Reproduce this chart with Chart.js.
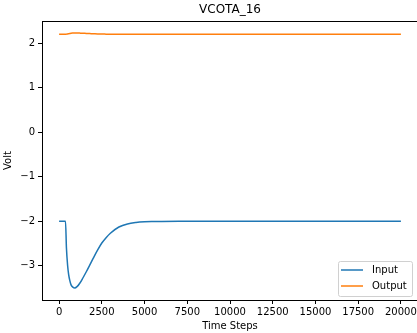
<!DOCTYPE html>
<html>
<head>
<meta charset="utf-8">
<script src="https://cdn.jsdelivr.net/npm/chart.js@4"></script>
<style>
  html, body { margin: 0; padding: 0; background: #fff; overflow: hidden; }
  #wrap { position: relative; width: 420px; height: 333px; }
</style>
</head>
<body>
<div id="wrap"><canvas id="c"></canvas></div>
<script>
const chartTitle = 'VCOTA_16';
const xLabel = 'Time Steps';
const yLabel = 'Volt';
const seriesNames = ['Input', 'Output'];
const steps = [0, 200, 375, 430, 500, 560, 625, 700, 800, 920, 1050, 1200, 1400, 1600, 1800, 2000, 2250, 2500, 2750, 3000, 3500, 4000, 4500, 5000, 5500, 6000, 7000, 8000, 10000, 15000, 20000];
const inputValues = [-2, -2, -2, -2.6, -3.0, -3.2, -3.33, -3.43, -3.48, -3.5, -3.47, -3.4, -3.27, -3.13, -2.98, -2.83, -2.65, -2.49, -2.37, -2.27, -2.13, -2.06, -2.028, -2.013, -2.007, -2.004, -2.001, -2.0, -2.0, -2.0, -2.0];
const outputValues = [2.2, 2.2, 2.2, 2.205, 2.21, 2.215, 2.22, 2.225, 2.228, 2.23, 2.23, 2.228, 2.225, 2.22, 2.217, 2.214, 2.21, 2.207, 2.205, 2.203, 2.201, 2.2, 2.2, 2.2, 2.2, 2.2, 2.2, 2.2, 2.2, 2.2, 2.2];
const xTicks = [0, 2500, 5000, 7500, 10000, 12500, 15000, 17500, 20000];
const yTicks = [-3, -2, -1, 0, 1, 2];
const colors = ['#1f77b4', '#ff7f0e'];

const FONT = "'DejaVu Sans', sans-serif";

const framePlugin = {
  id: 'frame',
  afterDraw(chart) {
    const {ctx, chartArea: a} = chart;
    ctx.save();
    ctx.strokeStyle = '#000';
    ctx.lineWidth = 1;
    ctx.strokeRect(Math.round(a.left) + 0.5, Math.round(a.top) + 0.5, Math.round(a.right - a.left), Math.round(a.bottom - a.top));
    ctx.fillStyle = '#000';
    ctx.font = '12px ' + FONT;
    ctx.textAlign = 'center';
    ctx.textBaseline = 'middle';
    ctx.fillText(chartTitle, (a.left + a.right) / 2, 10);
    const bw = 74, bh = 35;
    const bx = a.right - 6 - bw, by = a.bottom - 4 - bh;
    ctx.beginPath();
    if (ctx.roundRect) ctx.roundRect(bx + 0.5, by + 0.5, bw, bh, 2); else ctx.rect(bx + 0.5, by + 0.5, bw, bh);
    ctx.fillStyle = 'rgba(255,255,255,0.8)';
    ctx.fill();
    ctx.strokeStyle = '#d0d0d0';
    ctx.stroke();
    ctx.font = '10px ' + FONT;
    ctx.textAlign = 'left';
    chart.data.datasets.forEach((ds, i) => {
      const y = by + 9 + i * 16;
      ctx.strokeStyle = ds.borderColor;
      ctx.lineWidth = 1.5;
      ctx.beginPath();
      ctx.moveTo(bx + 3, y);
      ctx.lineTo(bx + 25, y);
      ctx.stroke();
      ctx.fillStyle = '#000';
      ctx.fillText(ds.label, bx + 34, y + 0.5);
    });
    ctx.restore();
  }
};

const fmtY = v => v < 0 ? '\u2212' + Math.abs(v) : String(v);

new Chart(document.getElementById('c'), {
  type: 'line',
  data: {
    datasets: [
      { label: seriesNames[0], data: steps.map((s, i) => ({x: s, y: inputValues[i]})), borderColor: colors[0], backgroundColor: colors[0], borderWidth: 1.5, pointRadius: 0, cubicInterpolationMode: 'monotone', fill: false },
      { label: seriesNames[1], data: steps.map((s, i) => ({x: s, y: outputValues[i]})), borderColor: colors[1], backgroundColor: colors[1], borderWidth: 1.5, pointRadius: 0, cubicInterpolationMode: 'monotone', fill: false }
    ]
  },
  options: {
    responsive: true,
    maintainAspectRatio: false,
    animation: false,
    layout: { padding: { top: 21, right: 2, left: 0, bottom: 0 } },
    plugins: { legend: { display: false }, title: { display: false }, tooltip: { enabled: false } },
    scales: {
      x: {
        type: 'linear', min: -1000, max: 21000,
        afterBuildTicks: s => { s.ticks = xTicks.map(v => ({value: v})); },
        afterFit: s => { s.height = 33; },
        grid: { display: true, drawOnChartArea: false, drawTicks: true, tickLength: 4, color: '#000' },
        border: { display: false },
        ticks: { color: '#000', font: { family: FONT, size: 10 }, padding: 2, maxRotation: 0, autoSkip: false, callback: v => String(v) },
        title: { display: true, text: xLabel, color: '#000', font: { family: FONT, size: 10 }, padding: { top: 0, bottom: 1 } }
      },
      y: {
        type: 'linear', min: -3.77, max: 2.5,
        afterBuildTicks: s => { s.ticks = yTicks.map(v => ({value: v})); },
        afterFit: s => { s.width = 42; },
        grid: { display: true, drawOnChartArea: false, drawTicks: true, tickLength: 4, color: '#000' },
        border: { display: false },
        ticks: { color: '#000', font: { family: FONT, size: 10 }, padding: 3, autoSkip: false, callback: fmtY },
        title: { display: true, text: yLabel, color: '#000', font: { family: FONT, size: 10 }, padding: { top: 2, bottom: 0 } }
      }
    }
  },
  plugins: [framePlugin]
});
</script>
</body>
</html>
